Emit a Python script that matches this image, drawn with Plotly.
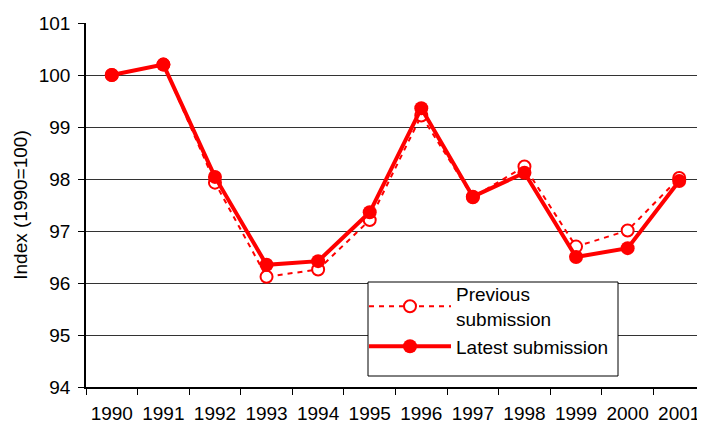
import plotly.graph_objects as go

years = ["1990", "1991", "1992", "1993", "1994", "1995",
         "1996", "1997", "1998", "1999", "2000", "2001"]
previous = [100.0, 100.2, 97.93, 96.12, 96.26, 97.21, 99.22, 97.65, 98.24, 96.70, 97.01, 98.02]
latest = [100.0, 100.2, 98.04, 96.35, 96.42, 97.36, 99.36, 97.66, 98.12, 96.50, 96.67, 97.96]

RED = "#ff0000"
FONT = "Liberation Sans, Arial, sans-serif"

# the page puts the figure 8px in from the top-left corner
W, H = 697, 415
L, T, B = 78, 15, 36
PW, PH = W - L, H - T - B

fig = go.Figure()

# Previous submission - dashed with open markers
fig.add_trace(go.Scatter(
    x=years, y=previous, mode="lines+markers", name="Previous<br>submission",
    line=dict(color=RED, width=2, dash="5px,5px"),
    marker=dict(symbol="circle", size=12, color="white", line=dict(color=RED, width=2)),
))

# Latest submission - solid with filled markers
fig.add_trace(go.Scatter(
    x=years, y=latest, mode="lines+markers", name="Latest submission",
    line=dict(color=RED, width=4),
    marker=dict(symbol="circle", size=14, color=RED),
))

# legend frame (the plotly legend sits inside it without its own border)
fig.add_shape(
    type="rect", xref="paper", yref="paper",
    x0=(360 - L) / PW, x1=(610 - L) / PW,
    y0=(T + PH - 368) / PH, y1=(T + PH - 274) / PH,
    line=dict(color="black", width=1), fillcolor="white", layer="above",
)

fig.update_layout(
    width=W, height=H,
    margin=dict(l=L, r=0, t=T, b=B),
    paper_bgcolor="white", plot_bgcolor="white",
    font=dict(family=FONT, size=19, color="black"),
    showlegend=True,
    legend=dict(
        x=(356 - L) / PW, y=(T + PH - 267) / PH, xanchor="left", yanchor="top",
        bgcolor="rgba(0,0,0,0)", borderwidth=0,
        font=dict(size=19), itemwidth=82, tracegroupgap=0,
    ),
    xaxis=dict(
        type="category", range=[-0.5, 11.5], automargin=False,
        showline=True, linecolor="black", linewidth=1.5,
        ticks="outside", tickson="boundaries", ticklen=6, tickcolor="black",
        ticklabelstandoff=8, tickangle=0,
        showgrid=False, zeroline=False,
    ),
    yaxis=dict(
        range=[94, 101], dtick=1, automargin=False,
        title=dict(text="Index (1990=100)", font=dict(size=19), standoff=6),
        showline=True, linecolor="black", linewidth=1.5,
        ticks="outside", ticklen=6, tickcolor="black",
        ticklabelstandoff=4,
        showgrid=True, gridcolor="#333333", gridwidth=1,
        zeroline=False,
    ),
)

fig.write_html("out.html")
